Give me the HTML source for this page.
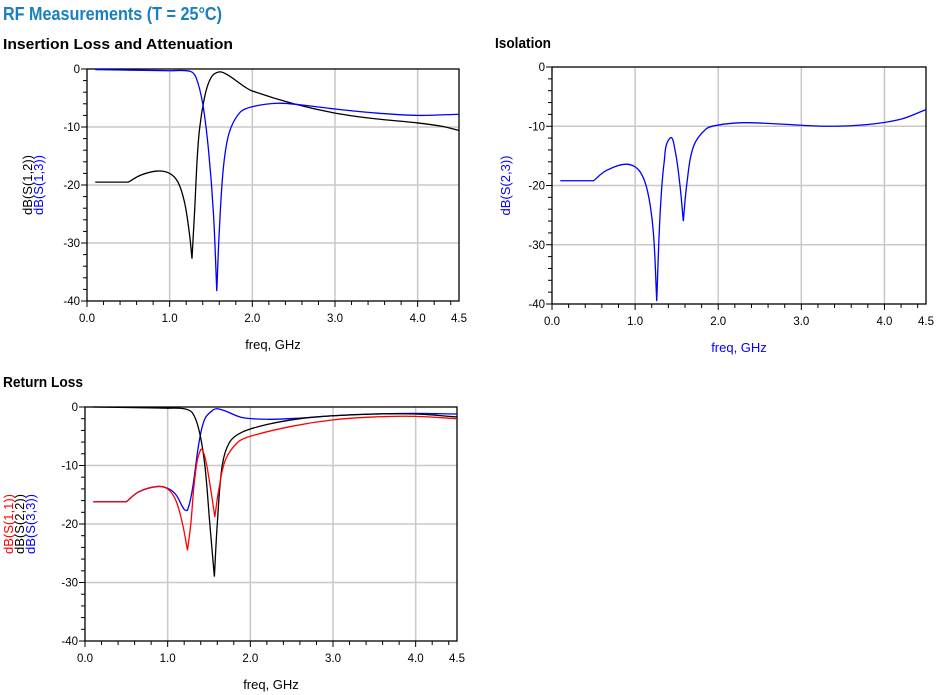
<!DOCTYPE html>
<html><head><meta charset="utf-8"><style>
body{margin:0;background:#fff;width:936px;height:695px;overflow:hidden}
svg{display:block}
</style></head><body>
<svg id="s" width="936" height="695" xmlns="http://www.w3.org/2000/svg" font-family="Liberation Sans, Arial, sans-serif">
<text x="3" y="20" font-size="18" font-weight="bold" fill="#1a7fc1" textLength="219" lengthAdjust="spacingAndGlyphs">RF Measurements (T = 25°C)</text>
<text x="3" y="49" font-size="14.5" font-weight="bold" fill="#000" textLength="230" lengthAdjust="spacingAndGlyphs">Insertion Loss and Attenuation</text>
<text x="495" y="48" font-size="14.5" font-weight="bold" fill="#000" textLength="56" lengthAdjust="spacingAndGlyphs">Isolation</text>
<text x="3" y="387" font-size="14.5" font-weight="bold" fill="#000" textLength="80" lengthAdjust="spacingAndGlyphs">Return Loss</text>
<g id="g"></g>
</svg>
<script>
const NS="http://www.w3.org/2000/svg";const G=document.getElementById('g');
function el(t,a,txt){const e=document.createElementNS(NS,t);for(const k in a)e.setAttribute(k,a[k]);if(txt!=null)e.textContent=txt;G.appendChild(e);return e;}
function tan(a,c,len){const dx=c[0]-a[0],dy=c[1]-a[1],n=Math.hypot(dx,dy)||1;return [dx/n*len/3,dy/n*len/3];}
function plot(P){
 const X=f=>P.x0+(P.x1-P.x0)*f/4.5, Y=d=>P.y0+(P.y1-P.y0)*(-d)/40;
 for(let f=1;f<=4;f++)el('line',{x1:X(f),x2:X(f),y1:P.y0,y2:P.y1,stroke:'#c8c8c8','stroke-width':1.5});
 for(let d=-10;d>=-30;d-=10)el('line',{x1:P.x0,x2:P.x1,y1:Y(d),y2:Y(d),stroke:'#c8c8c8','stroke-width':1.5});
 el('rect',{x:P.x0,y:P.y0,width:P.x1-P.x0,height:P.y1-P.y0,fill:'none',stroke:'#000','stroke-width':1.3});
 for(let d=0;d>=-40;d-=2){const m=d%10==0;el('line',{x1:P.x0-(m?6:4),x2:P.x0,y1:Y(d),y2:Y(d),stroke:'#000','stroke-width':1});}
 for(let i=0;i<=22;i++){const f=i*0.2;el('line',{x1:X(f),x2:X(f),y1:P.y1,y2:P.y1+(i%5==0?6:4),stroke:'#000','stroke-width':1});}
 for(let d=0;d>=-40;d-=10)el('text',{x:P.x0-7,y:Y(d)+4,'font-size':11.5,'text-anchor':'end'},d==0?'0':String(d));
 [0,1,2,3,4,4.5].forEach(f=>el('text',{x:X(f),y:P.y1+21,'font-size':11.5,'text-anchor':'middle'},f.toFixed(1)));
 el('text',{x:(P.x0+P.x1)/2,y:P.y1+48,'font-size':13,'text-anchor':'middle',fill:P.xc},'freq, GHz');
 P.labels.forEach((l,i)=>el('text',{transform:`translate(${P.lx+i*11},${(P.y0+P.y1)/2}) rotate(-90)`,'font-size':13,'text-anchor':'middle',fill:l[1]},l[0]));
 P.series.forEach(s=>{const p=s[1].map(q=>[X(q[0]),Y(q[1])]);let d='M'+p[0];
  for(let i=0;i<p.length-1;i++){const a=p[Math.max(0,i-1)],b=p[i],c=p[i+1],e=p[Math.min(p.length-1,i+2)];
   const L=Math.hypot(c[0]-b[0],c[1]-b[1]);
   const corner1=s[2]&&s[2].includes(i), corner2=s[2]&&s[2].includes(i+1);
   const t1=corner1?tan(b,c,L):tan(a,c,L), t2=corner2?tan(b,c,L):tan(b,e,L);
   d+=` C${b[0]+t1[0]},${b[1]+t1[1]} ${c[0]-t2[0]},${c[1]-t2[1]} ${c[0]},${c[1]}`;}
  el('path',{d:d,fill:'none',stroke:s[0],'stroke-width':1.3});});
}
plot({x0:87,x1:459,y0:69,y1:301,xc:'#000',lx:32,labels:[['dB(S(1,2))','#000'],['dB(S(1,3))','#00f']],series:[
['#000',[[0.1,-19.5],[0.5,-19.5],[0.65,-18.3],[0.85,-17.6],[1.0,-18],[1.1,-19.5],[1.18,-23],[1.24,-28.5],[1.27,-32.7],[1.3,-25],[1.35,-12],[1.42,-5],[1.5,-1.5],[1.6,-0.5],[1.7,-1],[1.9,-3],[2.0,-3.8],[2.5,-6],[3.0,-7.6],[3.5,-8.6],[4.0,-9.3],[4.3,-9.9],[4.5,-10.6]],[1,8]],
['#00f',[[0.1,-0.1],[1.0,-0.3],[1.25,-0.4],[1.32,-1.5],[1.4,-6],[1.47,-14],[1.53,-25],[1.57,-38.3],[1.6,-28],[1.65,-17],[1.72,-11],[1.85,-7.5],[2.0,-6.5],[2.3,-5.9],[2.6,-6.2],[3.0,-6.9],[3.5,-7.6],[4.0,-8.0],[4.5,-7.8]],[7]]]});
plot({x0:552,x1:926,y0:67,y1:304,xc:'#00f',lx:510,labels:[['dB(S(2,3))','#00f']],series:[
['#00f',[[0.1,-19.2],[0.5,-19.2],[0.65,-17.5],[0.9,-16.4],[1.05,-17.5],[1.15,-21],[1.22,-28],[1.26,-39.5],[1.3,-25],[1.35,-16],[1.42,-12],[1.48,-14],[1.54,-20],[1.58,-26],[1.62,-20],[1.7,-13.5],[1.85,-10.5],[2.0,-9.8],[2.3,-9.4],[2.7,-9.6],[3.3,-10],[3.8,-9.7],[4.2,-8.8],[4.5,-7.2]],[1,7,13]]]});
plot({x0:85,x1:457,y0:407,y1:641,xc:'#000',lx:13,labels:[['dB(S(1,1))','#f00'],['dB(S(2,2))','#000'],['dB(S(3,3))','#00f']],series:[
['#00f',[[0.1,-16.2],[0.5,-16.2],[0.65,-14.5],[0.87,-13.6],[1.0,-13.9],[1.1,-15],[1.2,-17.5],[1.24,-17.6],[1.3,-14],[1.38,-6],[1.45,-2],[1.55,-0.5],[1.6,-0.3],[1.7,-0.7],[1.9,-1.8],[2.2,-2.1],[2.6,-1.9],[3.0,-1.5],[3.5,-1.2],[4.0,-1.1],[4.5,-1.2]],[1]],
['#000',[[0.1,0],[1.0,-0.2],[1.2,-0.3],[1.3,-1],[1.38,-4],[1.45,-10],[1.51,-20],[1.565,-29],[1.6,-20],[1.66,-10],[1.75,-6],[1.9,-4.3],[2.2,-3],[2.6,-2],[3.0,-1.5],[3.5,-1.2],[4.0,-1.2],[4.5,-1.7]],[7]],
['#f00',[[0.1,-16.2],[0.5,-16.2],[0.65,-14.5],[0.87,-13.6],[1.0,-14],[1.1,-16],[1.18,-20],[1.24,-24.5],[1.28,-20],[1.33,-12],[1.4,-7.3],[1.45,-8.5],[1.52,-14],[1.57,-18.8],[1.62,-14],[1.7,-9],[1.85,-6],[2.0,-5],[2.5,-3.3],[3.0,-2.2],[3.5,-1.7],[4.0,-1.6],[4.5,-2]],[1,7,13]]]});
</script>
</body></html>
